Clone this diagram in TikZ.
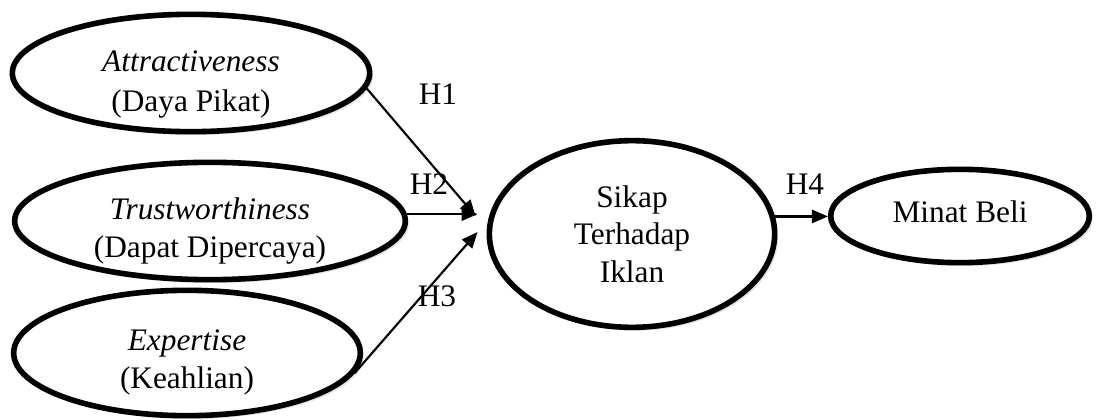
\documentclass[tikz,border=0pt]{standalone}
\usepackage{fontspec}
\setmainfont{Liberation Serif}
\usetikzlibrary{shapes.geometric,arrows.meta,shadows}
\tikzset{
  var/.style={ellipse,draw,line width=4.2pt,fill=white,inner sep=0pt,align=center,
    drop shadow={shadow xshift=2.5pt,shadow yshift=-2.5pt,fill=gray!45}},
  txt/.style={inner sep=0pt,align=center},
  hyp/.style={-{Triangle[length=12pt,width=10pt]},line width=1.6pt},
  lbl/.style={inner sep=0pt}
}
\begin{document}
\begin{tikzpicture}[x=0.75pt,y=-0.75pt,font=\fontsize{23.5}{28}\selectfont]
\useasboundingbox (0,0) rectangle (1098,420);
\node[var,name=attr,minimum width=268pt,minimum height=88pt] at (191,73) {};
\node[var,name=trust,minimum width=293pt,minimum height=88pt] at (210,221) {};
\node[var,name=expert,minimum width=260pt,minimum height=94pt] at (187,353) {};
\node[var,name=sikap,minimum width=214pt,minimum height=140pt] at (632,234) {Sikap\\Terhadap\\Iklan};
\node[var,name=minat,minimum width=194pt,minimum height=70pt] at (960,216) {};

\node[txt,name=attrtxt] at ([yshift=-9pt]attr.center) {\textit{Attractiveness}\\[2pt](Daya Pikat)};
\node[txt,name=trusttxt] at ([yshift=-7.5pt]trust.center) {\textit{Trustworthiness}\\(Dapat Dipercaya)};
\node[txt,name=experttxt] at ([yshift=-7pt]expert.center) {\textit{Expertise}\\(Keahlian)};
\node[txt,name=minattxt] at ([yshift=3pt]minat.center) {Minat Beli};

\node[lbl,name=h1] at (438,94) {H1};
\node[lbl,name=h2] at (429,184) {H2};
\node[lbl,name=h3] at (437,296) {H3};
\node[lbl,name=h4] at (805,184) {H4};

\coordinate (tip2) at ([shift={(-9,0)}]sikap.west);
\draw[hyp] (attr.-5) -- ([shift={(-11,-18)}]sikap.west);
\draw[hyp] (trust.2.5) -- (trust.2.5 -| tip2);
\draw[hyp] (expert.-7) -- ([shift={(-9,-2)}]sikap.west);
\draw[hyp] (sikap.7) -- (sikap.7 -| minat.west);
\end{tikzpicture}
\end{document}
